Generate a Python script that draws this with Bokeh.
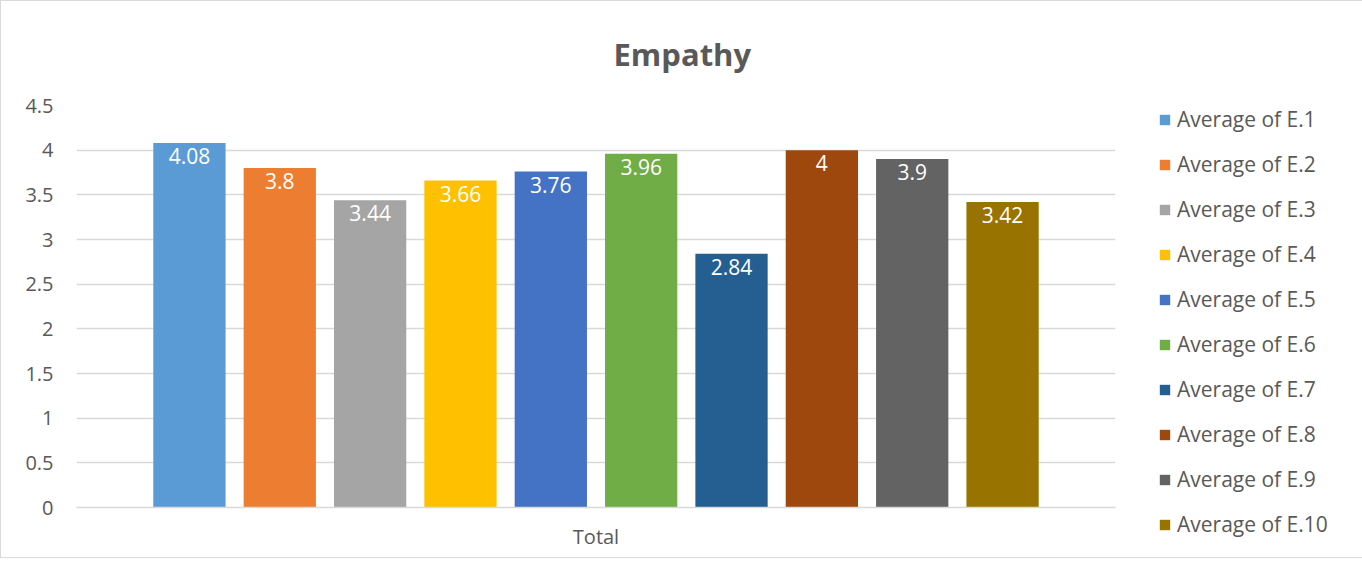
from bokeh.plotting import figure
from bokeh.models import Legend, LegendItem, FixedTicker, NumeralTickFormatter, Range1d, ColumnDataSource
from bokeh.core.properties import value
from bokeh.embed import file_html
from bokeh.resources import INLINE

title_text = "Empathy"
category = "Total"
series = ["Average of E.1", "Average of E.2", "Average of E.3", "Average of E.4", "Average of E.5",
          "Average of E.6", "Average of E.7", "Average of E.8", "Average of E.9", "Average of E.10"]
values = [4.08, 3.8, 3.44, 3.66, 3.76, 3.96, 2.84, 4, 3.9, 3.42]
labels = ["4.08", "3.8", "3.44", "3.66", "3.76", "3.96", "2.84", "4", "3.9", "3.42"]
colors = ["#5B9BD5", "#ED7D31", "#A5A5A5", "#FFC000", "#4472C4",
          "#70AD47", "#255E91", "#9E480E", "#636363", "#997300"]
y_ticks = [0, 0.5, 1, 1.5, 2, 2.5, 3, 3.5, 4, 4.5]

FONT = "Open Sans"
TXT = "#595959"

n = len(values)
xs = list(range(n))
center = (n - 1) / 2

p = figure(frame_width=1039, frame_height=402,
           min_border_left=75, min_border_right=240, min_border_top=104, min_border_bottom=50,
           x_range=Range1d(-1.25, n - 1 + 1.25), y_range=Range1d(0, 4.5),
           output_backend="svg", toolbar_location=None, title=title_text)
p.styles = {"border": "1px solid #D9D9D9"}
p.outline_line_color = None
p.background_fill_color = "white"
p.border_fill_color = "white"

p.title.text_font = FONT
p.title.text_font_size = "31px"
p.title.text_font_style = "bold"
p.title.text_color = TXT
p.title.align = "left"
p.title.offset = 537
p.title.vertical_align = "top"
p.title.standoff = 58

items = []
for i in range(n):
    src = ColumnDataSource(dict(x=[xs[i]], top=[values[i]], lab=[labels[i]]))
    r = p.vbar(x="x", top="top", width=0.8, bottom=0, source=src,
               fill_color=colors[i], line_color=None)
    p.text(x="x", y="top", text="lab", source=src, text_color="white",
           text_font=value(FONT), text_font_size="21px", text_align="center",
           text_baseline="middle", y_offset=13)
    items.append(LegendItem(label=series[i], renderers=[r]))

legend = Legend(items=items, location=(38, -36), margin=0, padding=5,
                glyph_width=13, glyph_height=13, label_standoff=6, spacing=17,
                label_height=20, label_text_font=FONT, label_text_font_size="21px",
                label_text_color=TXT, border_line_alpha=0, background_fill_alpha=0)
p.add_layout(legend, "right")

p.xgrid.visible = False
p.ygrid.grid_line_color = "#D9D9D9"
p.ygrid.grid_line_width = 1.3
p.ygrid.ticker = FixedTicker(ticks=y_ticks)

p.yaxis.ticker = FixedTicker(ticks=y_ticks)
p.yaxis.formatter = NumeralTickFormatter(format="0.[0]")
p.yaxis.axis_line_color = None
p.yaxis.major_tick_line_color = None
p.yaxis.minor_tick_line_color = None
p.yaxis.major_tick_out = 0
p.yaxis.major_label_standoff = 23
p.yaxis.major_label_text_font = FONT
p.yaxis.major_label_text_font_size = "20px"
p.yaxis.major_label_text_color = TXT

p.xaxis.ticker = FixedTicker(ticks=[center])
p.xaxis.major_label_overrides = {center: category}
p.xaxis.axis_line_color = "#D9D9D9"
p.xaxis.axis_line_width = 1.5
p.xaxis.major_tick_line_color = None
p.xaxis.minor_tick_line_color = None
p.xaxis.major_tick_out = 0
p.xaxis.major_label_standoff = 15
p.xaxis.major_label_text_font = FONT
p.xaxis.major_label_text_font_size = "20px"
p.xaxis.major_label_text_color = TXT

open("out.html", "w").write(file_html(p, INLINE))
